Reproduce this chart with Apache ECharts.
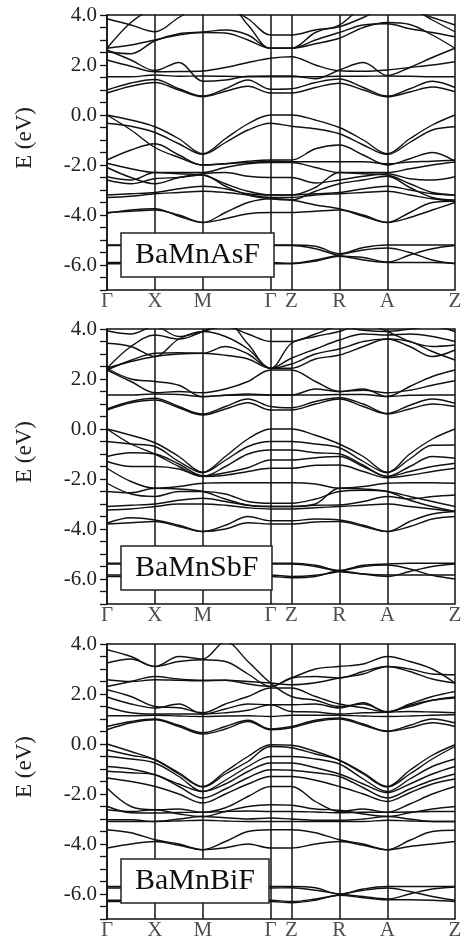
<!DOCTYPE html>
<html><head><meta charset="utf-8">
<script src="https://cdn.jsdelivr.net/npm/echarts@6/dist/echarts.min.js"></script>
<style>html,body{margin:0;padding:0;background:#fff}#c{width:466px;height:944px}</style>
</head><body><div id="c"></div>
<script>
// k-path sample positions (Γ X M Γ | Z R A Z)
const kPos = [0, 0.5, 1, 1.5, 2, 2.471, 2.943, 3.414, 3.85, 4.35, 4.85, 5.35, 5.85, 6.32, 6.79, 7.264];
const kSym = [0, 1, 2, 3.414, 3.85, 4.85, 5.85, 7.264];
const kNames = ['Γ', 'X', 'M', 'Γ', 'Z', 'R', 'A', 'Z'];
const compounds = ['BaMnAsF', 'BaMnSbF', 'BaMnBiF'];

// ---------- BaMnAsF ----------
const vbAs = [
  [0, -0.2, -0.47, -0.95, -1.55, -0.95, -0.35, 0, 0, -0.2, -0.5, -1.0, -1.55, -0.95, -0.4, 0],
  [-0.33, -0.45, -0.7, -1.15, -1.57, -1.1, -0.6, -0.33, -0.45, -0.55, -0.75, -1.2, -1.58, -1.1, -0.6, -0.47],
  [0, -0.6, -1.3, -1.7, -2.0, -1.95, -1.85, -1.8, -1.8, -1.35, -1.2, -1.6, -2.0, -1.75, -1.5, -1.85],
  [-1.8, -1.4, -1.15, -1.6, -2.0, -1.95, -1.9, -1.85, -1.87, -1.87, -1.87, -1.87, -1.95, -1.88, -1.85, -1.8],
  [-1.93, -2.15, -2.3, -2.3, -2.3, -2.1, -1.95, -1.9, -1.9, -2.1, -2.3, -2.3, -2.3, -2.15, -2.0, -1.88],
  [-2.1, -2.5, -2.75, -2.5, -2.35, -2.3, -2.45, -2.5, -2.5, -2.72, -2.6, -2.45, -2.35, -2.55, -2.6, -2.47],
  [-2.47, -2.6, -2.3, -2.35, -2.4, -2.75, -3.05, -3.2, -3.2, -2.9, -2.3, -2.35, -2.4, -2.75, -3.1, -3.2],
  [-2.6, -2.75, -2.55, -2.5, -2.4, -2.85, -3.2, -3.35, -3.4, -3.05, -2.75, -2.6, -2.45, -2.9, -3.3, -3.4],
  [-3.2, -3.15, -3.1, -2.95, -2.85, -2.95, -3.15, -3.2, -3.2, -3.15, -3.1, -2.95, -2.85, -3.0, -3.15, -3.2],
  [-3.3, -3.25, -3.15, -3.1, -3.05, -3.1, -3.2, -3.3, -3.3, -3.2, -3.15, -3.1, -3.05, -3.2, -3.35, -3.45],
  [-3.93, -3.8, -3.75, -4.05, -4.3, -3.9, -3.5, -3.35, -3.4, -3.6, -3.75, -4.05, -4.3, -3.9, -3.5, -3.45],
  [-3.9, -3.85, -3.8, -4.0, -4.3, -4.15, -3.95, -3.9, -3.9, -3.85, -3.8, -4.0, -4.3, -4.1, -3.8, -3.5]
];
const cbAs = [
  [0.88, 1.15, 1.3, 1.0, 0.73, 0.95, 1.15, 0.88, 0.88, 1.1, 1.27, 1.0, 0.73, 0.92, 1.12, 0.93],
  [1.0, 1.28, 1.42, 1.05, 0.76, 1.05, 1.4, 1.03, 1.05, 1.3, 1.44, 1.1, 0.76, 1.05, 1.35, 1.1],
  [1.53, 1.53, 1.6, 1.55, 1.56, 1.55, 1.53, 1.53, 1.53, 1.53, 1.55, 1.55, 1.56, 1.55, 1.53, 1.53],
  [2.2, 1.95, 1.73, 1.74, 1.76, 1.9, 2.1, 2.27, 2.33, 2.0, 1.77, 1.75, 1.8, 1.9, 2.0, 2.13],
  [2.6, 2.2, 1.78, 2.1, 1.35, 1.4, 1.55, 1.56, 1.56, 1.45, 1.8, 2.1, 1.58, 1.9, 2.3, 2.67],
  [2.67, 2.8, 3.0, 3.2, 3.3, 3.28, 3.0, 2.67, 2.67, 2.85, 3.07, 3.5, 3.7, 3.62, 3.2, 2.67],
  [2.53, 2.45, 2.97, 3.25, 3.32, 3.4, 3.2, 2.67, 2.67, 3.0, 3.3, 3.6, 3.65, 3.45, 3.3, 3.13],
  [2.67, 3.7, 4.3, 4.5, 4.5, 4.5, 3.6, 2.67, 2.67, 3.3, 3.6, 4.3, 4.4, 4.3, 3.8, 3.33],
  [3.85, 3.6, 3.33, 3.9, 4.4, 4.3, 3.85, 3.2, 3.2, 3.4, 3.53, 3.9, 4.3, 4.2, 3.9, 3.6]
];
const baAs = [
  [-5.2, -5.2, -5.2, -5.2, -5.2, -5.2, -5.2, -5.2, -5.2, -5.25, -5.55, -5.3, -5.2, -5.2, -5.2, -5.2],
  [-5.9, -5.9, -5.9, -5.9, -5.9, -5.9, -5.9, -5.9, -5.93, -5.8, -5.6, -5.4, -5.32, -5.5, -5.8, -5.95],
  [-5.95, -5.95, -5.95, -5.95, -5.95, -5.95, -5.95, -5.95, -5.95, -5.85, -5.65, -5.8, -5.9, -5.9, -5.9, -5.93],
  [-5.22, -5.22, -5.22, -5.22, -5.22, -5.22, -5.22, -5.22, -5.22, -5.35, -5.62, -5.7, -5.88, -5.6, -5.35, -5.22]
];

// ---------- BaMnSbF ----------
const vbSb = [
  [0, -0.25, -0.55, -1.1, -1.73, -1.1, -0.4, 0, 0, -0.25, -0.6, -1.1, -1.73, -1.0, -0.4, 0],
  [-0.5, -0.6, -0.7, -1.3, -1.75, -1.25, -0.7, -0.5, -0.5, -0.6, -0.75, -1.3, -1.75, -1.2, -0.65, -0.64],
  [0, -0.6, -1.0, -1.5, -1.9, -1.5, -1.0, -0.84, -0.84, -0.95, -1.0, -1.45, -1.9, -1.5, -1.1, -1.17],
  [-1.1, -0.95, -1.0, -1.4, -1.87, -1.75, -1.55, -1.24, -1.24, -1.15, -1.1, -1.5, -1.9, -1.7, -1.5, -1.37],
  [-1.3, -1.5, -1.5, -1.6, -1.9, -1.85, -1.7, -1.57, -1.57, -1.45, -1.44, -1.7, -1.95, -1.85, -1.7, -1.57],
  [-1.57, -2.1, -2.37, -2.3, -2.17, -2.15, -2.15, -2.15, -2.15, -2.2, -2.37, -2.3, -2.17, -2.15, -2.15, -2.17],
  [-2.17, -2.6, -2.7, -2.5, -2.5, -2.6, -2.9, -2.97, -2.97, -2.8, -2.5, -2.45, -2.5, -2.7, -2.9, -3.1],
  [-2.5, -2.55, -2.37, -2.4, -2.5, -2.8, -3.05, -3.1, -3.1, -3.0, -2.37, -2.4, -2.5, -2.85, -3.1, -3.3],
  [-3.1, -3.05, -3.0, -2.85, -2.77, -2.9, -3.05, -3.1, -3.1, -3.05, -3.04, -2.9, -2.7, -2.8, -2.7, -2.64],
  [-3.24, -3.2, -3.1, -3.0, -3.0, -3.05, -3.15, -3.2, -3.2, -3.15, -3.1, -3.05, -3.0, -3.1, -3.2, -3.3],
  [-3.77, -3.55, -3.64, -3.85, -4.1, -3.85, -3.5, -3.67, -3.67, -3.6, -3.64, -3.85, -4.1, -3.7, -3.4, -3.3],
  [-3.8, -3.75, -3.7, -3.9, -4.1, -4.0, -3.75, -3.8, -3.8, -3.72, -3.7, -3.9, -4.1, -3.9, -3.6, -3.5]
];
const cbSb = [
  [0.76, 1.05, 1.16, 0.85, 0.56, 0.8, 1.05, 0.76, 0.76, 1.0, 1.2, 0.9, 0.6, 0.8, 1.0, 0.9],
  [0.8, 1.1, 1.23, 0.9, 0.6, 0.9, 1.2, 0.9, 0.85, 1.1, 1.25, 1.0, 0.62, 0.95, 1.2, 1.03],
  [1.36, 1.36, 1.4, 1.38, 1.3, 1.35, 1.36, 1.36, 1.36, 1.36, 1.38, 1.38, 1.3, 1.35, 1.36, 1.36],
  [2.36, 1.9, 1.45, 1.5, 1.45, 1.6, 1.9, 2.36, 2.36, 1.9, 1.5, 1.55, 1.45, 1.55, 1.75, 1.93],
  [2.43, 2.0, 1.9, 1.75, 1.29, 1.35, 1.4, 1.36, 1.36, 1.6, 1.5, 1.6, 1.3, 1.7, 2.1, 2.36],
  [2.43, 2.7, 2.9, 3.0, 3.03, 2.95, 2.8, 2.43, 2.43, 2.8, 2.96, 3.3, 3.6, 3.5, 3.1, 2.76],
  [2.36, 2.75, 3.03, 3.05, 3.03, 3.3, 3.0, 2.43, 2.6, 3.0, 3.2, 3.5, 3.6, 3.3, 2.9, 3.16],
  [2.43, 3.3, 3.76, 3.6, 3.9, 4.3, 3.4, 2.43, 2.83, 3.2, 3.56, 3.8, 3.76, 3.8, 3.7, 3.5],
  [3.43, 3.3, 2.9, 3.6, 3.9, 3.7, 3.2, 2.43, 3.43, 3.7, 3.9, 4.2, 3.9, 3.5, 3.3, 3.36],
  [3.93, 3.8, 4.1, 3.7, 3.9, 4.1, 3.8, 3.5, 3.5, 3.8, 4.1, 3.95, 3.9, 4.0, 4.1, 3.9]
];
const baSb = [
  [-5.37, -5.37, -5.37, -5.37, -5.37, -5.37, -5.37, -5.37, -5.37, -5.45, -5.65, -5.45, -5.4, -5.37, -5.37, -5.37],
  [-5.84, -5.84, -5.84, -5.84, -5.84, -5.84, -5.84, -5.84, -5.9, -5.85, -5.7, -5.5, -5.44, -5.6, -5.85, -6.0],
  [-5.9, -5.9, -5.9, -5.9, -5.9, -5.9, -5.9, -5.9, -5.95, -5.9, -5.68, -5.8, -5.84, -5.84, -5.84, -5.84],
  [-5.4, -5.4, -5.4, -5.4, -5.4, -5.4, -5.4, -5.4, -5.4, -5.5, -5.7, -5.8, -5.9, -5.7, -5.5, -5.4]
];

// ---------- BaMnBiF ----------
const vbBi = [
  [0, -0.3, -0.63, -1.15, -1.7, -1.1, -0.5, -0.03, -0.05, -0.3, -0.65, -1.15, -1.7, -1.05, -0.45, -0.03],
  [-0.23, -0.45, -0.63, -1.2, -1.72, -1.2, -0.7, -0.1, -0.15, -0.4, -0.65, -1.2, -1.72, -1.2, -0.6, -0.1],
  [-0.49, -0.6, -0.76, -1.3, -1.9, -1.45, -0.9, -0.5, -0.5, -0.6, -0.8, -1.4, -1.9, -1.4, -0.9, -0.6],
  [-0.9, -1.0, -1.23, -1.6, -1.9, -1.6, -1.1, -0.76, -0.76, -0.95, -1.2, -1.6, -1.95, -1.6, -1.2, -0.9],
  [-1.09, -1.15, -1.23, -1.7, -2.16, -1.8, -1.35, -1.03, -1.05, -1.15, -1.3, -1.75, -2.16, -1.8, -1.45, -1.2],
  [-1.36, -1.5, -1.7, -2.0, -2.36, -2.0, -1.6, -1.3, -1.3, -1.45, -1.7, -2.0, -2.3, -1.95, -1.6, -1.4],
  [-1.76, -2.5, -2.63, -2.6, -2.73, -2.55, -2.1, -1.7, -1.7, -2.3, -2.7, -2.6, -2.73, -2.4, -2.0, -1.7],
  [-2.49, -2.75, -2.76, -2.74, -2.73, -2.7, -2.68, -2.7, -2.7, -2.72, -2.75, -2.73, -2.73, -2.72, -2.7, -2.7],
  [-2.63, -2.7, -2.63, -2.8, -2.9, -2.7, -2.5, -2.43, -2.45, -2.6, -2.65, -2.8, -2.9, -2.75, -2.6, -2.5],
  [-3.03, -3.03, -3.1, -3.0, -2.9, -2.95, -3.0, -2.96, -3.0, -3.05, -3.05, -3.0, -2.9, -3.0, -3.1, -3.1],
  [-3.1, -3.1, -3.1, -3.08, -3.05, -3.08, -3.1, -3.1, -3.1, -3.1, -3.1, -3.1, -3.05, -3.08, -3.1, -3.1],
  [-3.43, -3.55, -3.83, -4.0, -4.23, -3.9, -3.5, -3.43, -3.43, -3.55, -3.83, -4.0, -4.23, -3.85, -3.5, -3.45],
  [-4.16, -4.0, -3.9, -4.05, -4.23, -4.15, -4.0, -4.16, -4.16, -4.0, -3.9, -4.05, -4.23, -4.1, -4.0, -3.9]
];
const cbBi = [
  [0.57, 0.85, 0.97, 0.7, 0.4, 0.6, 0.9, 0.57, 0.65, 0.9, 1.0, 0.75, 0.5, 0.65, 0.85, 0.7],
  [0.7, 0.9, 1.0, 0.75, 0.45, 0.7, 0.95, 0.6, 0.7, 0.95, 1.04, 0.8, 0.52, 0.75, 1.0, 0.84],
  [1.13, 1.13, 1.15, 1.12, 1.1, 1.12, 1.13, 1.1, 1.15, 1.15, 1.15, 1.12, 1.1, 1.12, 1.15, 1.17],
  [1.48, 1.25, 1.2, 1.2, 1.2, 1.25, 1.35, 1.57, 1.3, 1.28, 1.2, 1.25, 1.27, 1.3, 1.28, 1.25],
  [1.88, 1.6, 1.44, 1.6, 1.2, 1.4, 1.6, 1.57, 1.57, 1.6, 1.44, 1.65, 1.27, 1.55, 1.75, 1.84],
  [2.17, 1.9, 1.5, 1.45, 1.25, 1.6, 1.9, 2.24, 2.24, 1.9, 1.6, 1.45, 1.28, 1.6, 1.9, 2.1],
  [2.57, 2.5, 2.57, 2.55, 2.53, 2.55, 2.5, 2.44, 2.37, 2.45, 2.64, 2.8, 3.1, 2.9, 2.6, 2.44],
  [2.3, 2.5, 2.7, 2.6, 2.55, 2.55, 2.4, 2.3, 2.64, 2.7, 2.64, 2.9, 3.1, 3.0, 2.8, 2.77],
  [3.24, 3.4, 3.1, 3.3, 3.37, 3.3, 2.8, 2.3, 2.64, 3.0, 3.1, 3.2, 3.5, 3.3, 3.0, 2.44],
  [3.77, 3.5, 3.1, 3.5, 3.4, 4.1, 3.3, 2.44, 1.9, 1.75, 1.5, 1.6, 1.3, 1.5, 1.75, 1.88]
];
const baBi = [
  [-5.7, -5.7, -5.7, -5.7, -5.7, -5.7, -5.7, -5.7, -5.7, -5.75, -6.0, -5.8, -5.7, -5.7, -5.7, -5.7],
  [-6.25, -6.25, -6.25, -6.25, -6.25, -6.25, -6.25, -6.25, -6.3, -6.2, -6.03, -5.85, -5.76, -5.9, -6.1, -6.25],
  [-6.3, -6.3, -6.3, -6.3, -6.3, -6.3, -6.3, -6.3, -6.35, -6.25, -6.05, -6.15, -6.23, -6.23, -6.25, -6.3],
  [-5.76, -5.76, -5.76, -5.76, -5.76, -5.76, -5.76, -5.76, -5.75, -5.85, -6.0, -6.1, -6.2, -6.0, -5.8, -5.72]
];

const bandSets = [
  vbAs.concat(cbAs, baAs),
  vbSb.concat(cbSb, baSb),
  vbBi.concat(cbBi, baBi)
];

const FONT = 'Liberation Serif';
const tops = [15, 329, 644];
const boxTops = [233, 546, 859];
const grids = [], xAxes = [], yAxes = [], series = [], titles = [], graphics = [];

tops.forEach((top, i) => {
  grids.push({left: 107, width: 348, top: top, height: 275, show: true,
    borderColor: '#111', borderWidth: 1.5, backgroundColor: 'transparent'});
  xAxes.push({type: 'value', gridIndex: i, min: 0, max: 7.264,
    axisLine: {show: false}, axisTick: {show: false}, axisLabel: {show: false}, splitLine: {show: false}});
  yAxes.push({type: 'value', gridIndex: i, min: -7, max: 4, interval: 0.5,
    axisLine: {show: true, lineStyle: {color: '#111', width: 1.5}},
    axisTick: {show: true, length: 7, lineStyle: {color: '#111', width: 1.3}},
    axisLabel: {margin: 10, color: '#222', fontFamily: FONT, fontSize: 21,
      formatter: v => (Math.abs(v % 2) < 1e-6 ? v.toFixed(1) : '')},
    splitLine: {show: false}});
  bandSets[i].forEach(b => {
    series.push({type: 'line', xAxisIndex: i, yAxisIndex: i, silent: true,
      showSymbol: false, symbol: 'none', smooth: 0.35, animation: false,
      lineStyle: {color: '#111', width: 1.4},
      data: kPos.map((k, j) => [k, b[j]])});
  });
  series.push({type: 'scatter', xAxisIndex: i, yAxisIndex: i, silent: true, clip: false,
    symbolSize: 0, animation: false,
    data: kSym.map((k, j) => ({value: [k, -7], name: kNames[j]})),
    label: {show: true, position: 'bottom', distance: 1, formatter: p => p.name,
      color: '#222', fontFamily: FONT, fontSize: 21},
    markLine: {silent: true, symbol: ['none', 'none'], animation: false,
      label: {show: false}, lineStyle: {color: '#111', width: 1.5, type: 'solid'},
      data: kSym.slice(1, -1).map(k => ({xAxis: k}))}});
  titles.push({text: compounds[i], left: 121, top: boxTops[i], padding: [7, 14],
    borderColor: '#222', borderWidth: 1.5, backgroundColor: '#fff',
    textStyle: {fontFamily: FONT, fontSize: 30, fontWeight: 'normal', color: '#111'}});
  graphics.push({type: 'text', x: 25, y: top + 123, rotation: Math.PI / 2,
    style: {text: 'E (eV)', fontFamily: FONT, fontSize: 23, fill: '#222',
      textAlign: 'center', textVerticalAlign: 'middle'}});
});

const chart = echarts.init(document.getElementById('c'), null, {renderer: 'canvas'});
chart.setOption({animation: false, backgroundColor: '#fff', title: titles, grid: grids,
  xAxis: xAxes, yAxis: yAxes, series: series, graphic: graphics});
</script></body></html>
